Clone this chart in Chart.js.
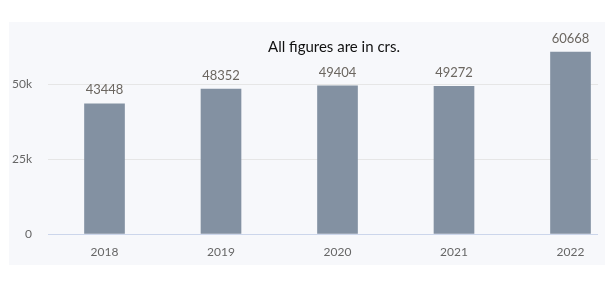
<!DOCTYPE html>
<html>
<head>
<meta charset="utf-8">
<script src="https://cdn.jsdelivr.net/npm/chart.js@4"></script>
<style>
    html, body { margin: 0; padding: 0; background: #ffffff; }
    #panel {
        position: absolute; left: 9px; top: 22px;
        width: 596px; height: 243px; background: #f7f8fb;
    }
    #wrap { position: absolute; left: 0; top: 0; width: 596px; height: 243px; }
</style>
</head>
<body>
<div id="panel"><div id="wrap"><canvas id="myChart"></canvas></div></div>
<script>
const years = ['2018', '2019', '2020', '2021', '2022'];
const values = [43448, 48352, 49404, 49272, 60668];
const yTicks = [0, 25000, 50000];
const titleText = 'All figures are in crs.';

// value labels above every bar
const barLabels = {
    id: 'barLabels',
    afterDatasetsDraw(chart) {
        const ctx = chart.ctx;
        const meta = chart.getDatasetMeta(0);
        ctx.save();
        ctx.font = '13px Lato';
        ctx.fillStyle = '#6b6660';
        ctx.textAlign = 'center';
        ctx.textBaseline = 'bottom';
        meta.data.forEach((bar, i) => {
            ctx.fillText(String(values[i]), bar.x, bar.y - 7);
        });
        ctx.restore();
    }
};

const chartNote = {
    id: 'chartNote',
    afterDraw(chart) {
        const ctx = chart.ctx;
        const area = chart.chartArea;
        ctx.save();
        ctx.font = '15px Lato';
        ctx.fillStyle = '#111111';
        ctx.textAlign = 'center';
        ctx.textBaseline = 'alphabetic';
        ctx.fillText(titleText, (area.left + area.right) / 2 + 11, 30);
        ctx.restore();
    }
};

const ctx = document.getElementById('myChart').getContext('2d');
const myChart = new Chart(ctx, {
    type: 'bar',
    data: {
        datasets: [{
            data: years.map((y, i) => ({ x: Number(y), y: values[i] })),
            backgroundColor: '#8391a2',
            borderWidth: 0,
            barThickness: 40
        }]
    },
    options: {
        responsive: true,
        maintainAspectRatio: false,
        animation: false,
        layout: { padding: { left: 0, right: 7, top: 18, bottom: 0 } },
        plugins: { legend: { display: false }, tooltip: { enabled: false } },
        scales: {
            x: {
                type: 'linear',
                min: 2017.515,
                max: 2022.236,
                offset: false,
                afterBuildTicks: (scale) => {
                    scale.ticks = years.map(y => ({ value: Number(y) }));
                },
                afterFit: (scale) => { scale.height = 31; },
                grid: { display: false, drawTicks: false },
                border: { display: false },
                ticks: {
                    color: '#666666',
                    font: { family: 'Lato', size: 12 },
                    padding: 11,
                    callback: (v) => String(v)
                }
            },
            y: {
                min: 0,
                max: 63000,
                afterBuildTicks: (scale) => {
                    scale.ticks = yTicks.map(v => ({ value: v }));
                },
                afterFit: (scale) => { scale.width = 39; },
                grid: {
                    color: (c) => c.tick && c.tick.value === 0 ? '#ccd6eb' : '#e6e6e6',
                    drawTicks: false
                },
                border: { display: false },
                ticks: {
                    color: '#666666',
                    font: { family: 'Lato', size: 12 },
                    padding: 16,
                    callback: (v) => v === 0 ? '0' : (v / 1000) + 'k'
                }
            }
        }
    },
    plugins: [barLabels, chartNote]
});
</script>
</body>
</html>
